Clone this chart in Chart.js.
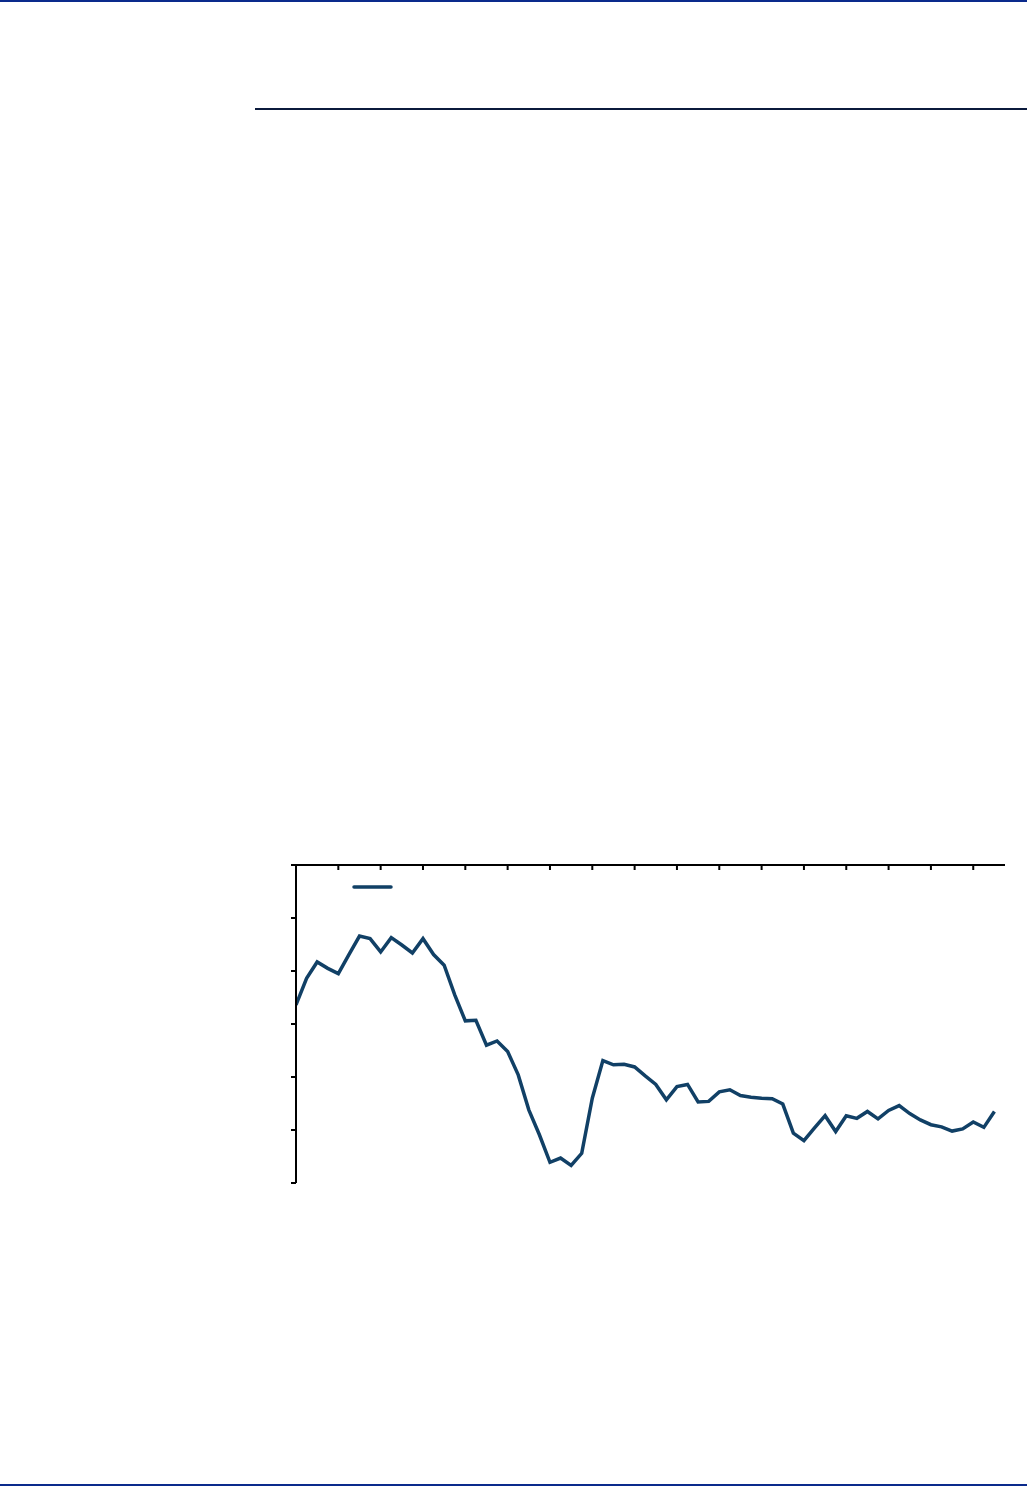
<!DOCTYPE html>
<html>
<head>
<meta charset="utf-8">
<script src="https://cdn.jsdelivr.net/npm/chart.js@4.4.1/dist/chart.umd.min.js"></script>
<style>
  html, body { margin: 0; padding: 0; background: #fff; }
  body { width: 1027px; height: 1486px; position: relative; overflow: hidden; }
  #topBar { position: absolute; left: 0; top: 0; width: 1027px; height: 2px; background: #0a2a8c; }
  #rule { position: absolute; left: 255px; top: 108px; width: 772px; height: 2px; background: #0b1a3c; }
  #bottomBar { position: absolute; left: 0; top: 1484px; width: 1027px; height: 2px; background: #0a2a8c; }
  #wrap { position: absolute; left: 250px; top: 840px; width: 777px; height: 380px; }
</style>
</head>
<body>
<div id="topBar"></div>
<div id="rule"></div>
<div id="bottomBar"></div>
<div id="wrap"><canvas id="lineChart"></canvas></div>
<script>
// quarterly series, one value per quarter (no labels printed on the chart)
const values = [3.36, 3.86, 4.17, 4.05, 3.95, 4.31, 4.66, 4.61, 4.36, 4.63, 4.49, 4.34,
  4.61, 4.31, 4.11, 3.55, 3.06, 3.07, 2.60, 2.68, 2.48, 2.04, 1.38, 0.91,
  0.39, 0.47, 0.33, 0.56, 1.60, 2.31, 2.23, 2.24, 2.19, 2.02, 1.86, 1.57,
  1.82, 1.86, 1.53, 1.54, 1.72, 1.76, 1.65, 1.62, 1.60, 1.59, 1.49, 0.94,
  0.80, 1.04, 1.27, 0.97, 1.27, 1.22, 1.35, 1.21, 1.37, 1.46, 1.31, 1.19,
  1.10, 1.06, 0.98, 1.02, 1.15, 1.05, 1.35];
const quarters = values.map((v, i) => i);
const yTicks = [0, 1, 2, 3, 4, 5, 6];
const xTicks = [0, 4, 8, 12, 16, 20, 24, 28, 32, 36, 40, 44, 48, 52, 56, 60, 64];
const lineColor = "rgb(17, 64, 102)";

// axis lines and tick marks drawn from the scales
const axesPlugin = {
  id: "axes",
  afterDraw(chart) {
    const ctx = chart.ctx;
    const xs = chart.scales.x, ys = chart.scales.y;
    const area = chart.chartArea;
    ctx.save();
    ctx.strokeStyle = "#000";
    ctx.lineWidth = 2;
    ctx.beginPath();
    ctx.moveTo(area.left, ys.getPixelForValue(0));
    ctx.lineTo(area.left, ys.getPixelForValue(6));
    ctx.moveTo(area.left - 5, ys.getPixelForValue(6));
    ctx.lineTo(area.right, ys.getPixelForValue(6));
    yTicks.forEach(t => {
      const y = ys.getPixelForValue(t);
      ctx.moveTo(area.left - 5, y);
      ctx.lineTo(area.left, y);
    });
    xTicks.forEach(t => {
      const x = xs.getPixelForValue(t);
      ctx.moveTo(x, area.top);
      ctx.lineTo(x, area.top + 5);
    });
    ctx.stroke();
    // legend swatch
    ctx.strokeStyle = lineColor;
    ctx.lineWidth = 3.5;
    ctx.lineCap = "round";
    ctx.beginPath();
    ctx.moveTo(area.left + 58, area.top + 22);
    ctx.lineTo(area.left + 95, area.top + 22);
    ctx.stroke();
    ctx.restore();
  }
};

const config = {
  type: "line",
  data: {
    datasets: [
      {
        label: "",
        data: values.map((v, i) => ({ x: quarters[i], y: v })),
        borderColor: lineColor,
        borderWidth: 3.5,
        pointRadius: 0,
        tension: 0,
        fill: false,
      },
    ],
  },
  options: {
    responsive: true,
    maintainAspectRatio: false,
    animation: false,
    layout: { padding: { left: 46, top: 25, right: 22, bottom: 37 } },
    scales: {
      x: { type: "linear", min: 0, max: 67, display: false },
      y: { min: 0, max: 6, display: false },
    },
    plugins: {
      legend: { display: false },
      tooltip: { enabled: false },
    },
  },
  plugins: [axesPlugin],
};

let ctx = document.getElementById("lineChart");
const lineChart = new Chart(ctx, config);
</script>
</body>
</html>
